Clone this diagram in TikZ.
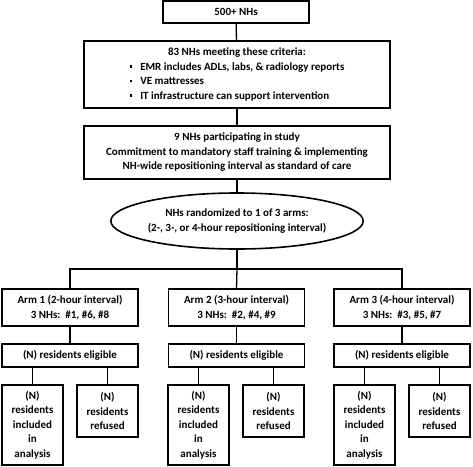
\documentclass[tikz,border=0pt]{standalone}
\usepackage{fontspec}
\setmainfont{Carlito}
\usetikzlibrary{shapes.geometric}

\newcommand{\critbullet}{\rule[2.5pt]{2.6pt}{2.6pt}\hspace{8pt}}

\begin{document}
\begin{tikzpicture}[x=1pt, y=-1pt,
    every node/.style={font=\fontsize{11}{14.5}\selectfont\bfseries, align=center, inner sep=0pt},
    box/.style={draw, line width=1.6pt, rectangle},
    armbox/.style={box, minimum width=136pt},
    subbox/.style={box, minimum width=61pt},
    link/.style={line width=1.3pt}]
  \useasboundingbox (0,0) rectangle (473,466);

  \node[box, minimum width=146pt, minimum height=22pt] (all)  at (236,12)    {500+ NHs};
  \node[box, minimum width=306pt, minimum height=67pt] (crit) at (237,74.5)
    {\begin{tabular}{@{}l@{}}
       \multicolumn{1}{@{}c@{}}{83 NHs meeting these criteria:}\\
       \critbullet EMR includes ADLs, labs, \& radiology reports\\
       \critbullet VE mattresses\\
       \critbullet IT infrastructure can support intervention
     \end{tabular}};
  \node[box, minimum width=306pt, minimum height=53pt] (part) at (237,152.5)
    {9 NHs participating in study\\
     Commitment to mandatory staff training \& implementing\\
     NH-wide repositioning interval as standard of care};
  \node[draw, ellipse, line width=1.6pt, minimum width=230pt, minimum height=56pt] (rand) at (237,221)
    {NHs randomized to 1 of 3 arms:\\ (2-, 3-, or 4-hour repositioning interval)};
  \coordinate (bus) at (237,269);

  \node[armbox, minimum height=37pt] (arm1) at (70,307.5)    {Arm 1 (2-hour interval)\\ 3 NHs:\ \ \#1, \#6, \#8};
  \node[armbox, minimum height=37pt] (arm2) at (236.5,307.5) {Arm 2 (3-hour interval)\\ 3 NHs:\ \ \#2, \#4, \#9};
  \node[armbox, minimum height=37pt] (arm3) at (402,307.5)   {Arm 3 (4-hour interval)\\ 3 NHs:\ \ \#3, \#5, \#7};

  \node[armbox, minimum height=23pt] (elig1) at (70,355.5)    {(N) residents eligible};
  \node[armbox, minimum height=23pt] (elig2) at (236.5,355.5) {(N) residents eligible};
  \node[armbox, minimum height=23pt] (elig3) at (402,355.5)   {(N) residents eligible};

  \node[subbox, minimum height=80pt] (inc1) at (32.5,425)  {(N)\\ residents\\ included\\ in\\ analysis};
  \node[subbox, minimum height=52pt] (ref1) at (107.5,411) {(N)\\ residents\\ refused};
  \node[subbox, minimum height=80pt] (inc2) at (198.5,425) {(N)\\ residents\\ included\\ in\\ analysis};
  \node[subbox, minimum height=52pt] (ref2) at (273.5,411) {(N)\\ residents\\ refused};
  \node[subbox, minimum height=80pt] (inc3) at (364.5,425) {(N)\\ residents\\ included\\ in\\ analysis};
  \node[subbox, minimum height=52pt] (ref3) at (439.5,411) {(N)\\ residents\\ refused};

  \draw[link] (all)  -- (crit);
  \draw[link] (crit) -- (part);
  \draw[link] (part) -- (rand);
  \draw[link] (rand.south) -- (bus);
  \draw[link] (arm1.north) -- (arm1.north |- bus) -- (arm3.north |- bus) -- (arm3.north);
  \draw[link] (bus) -- (arm2.north);

  \draw[link] (arm1) -- (elig1);
  \draw[link] (arm2) -- (elig2);
  \draw[link] (arm3) -- (elig3);

  \draw[link] (inc1.north) -- (inc1.north |- elig1.south);
  \draw[link] (ref1.north) -- (ref1.north |- elig1.south);
  \draw[link] (inc2.north) -- (inc2.north |- elig2.south);
  \draw[link] (ref2.north) -- (ref2.north |- elig2.south);
  \draw[link] (inc3.north) -- (inc3.north |- elig3.south);
  \draw[link] (ref3.north) -- (ref3.north |- elig3.south);
\end{tikzpicture}
\end{document}
